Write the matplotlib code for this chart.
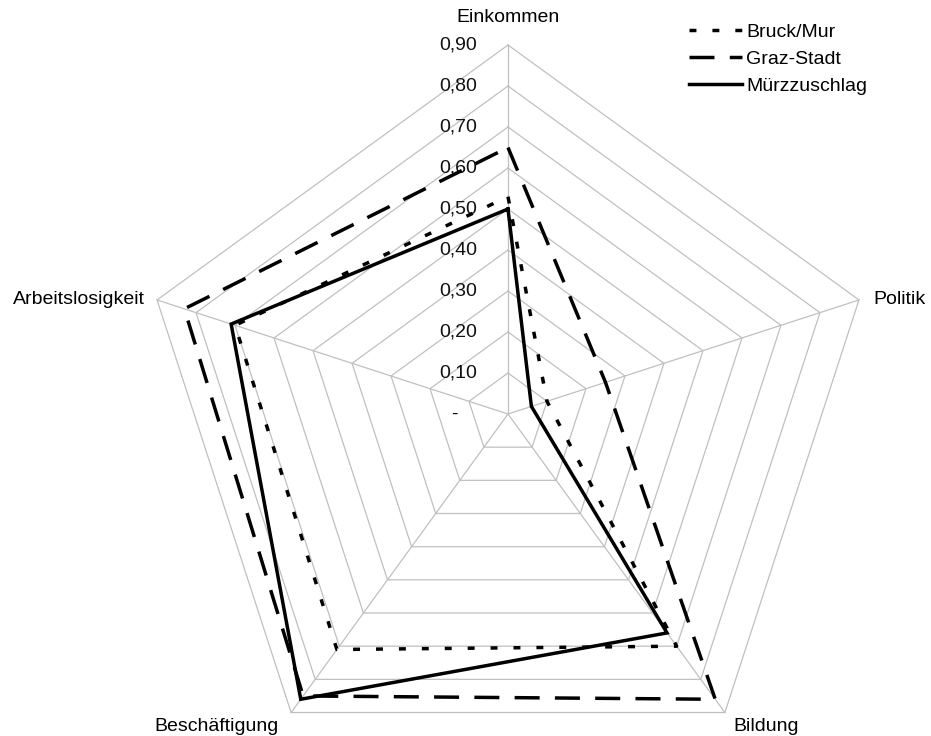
import numpy as np
import matplotlib
matplotlib.use("Agg")
import matplotlib.pyplot as plt
from matplotlib.lines import Line2D

plt.rcParams['font.family'] = ['Liberation Sans', 'DejaVu Sans']
plt.rcParams['lines.scale_dashes'] = False

categories = ["Einkommen", "Politik", "Bildung", "Beschäftigung", "Arbeitslosigkeit"]
bruck = [0.53, 0.10, 0.70, 0.71, 0.70]
graz = [0.65, 0.25, 0.86, 0.85, 0.83]
muerz = [0.50, 0.06, 0.66, 0.86, 0.71]
series_names = ["Bruck/Mur", "Graz-Stadt", "Mürzzuschlag"]
levels = [0.1, 0.2, 0.3, 0.4, 0.5, 0.6, 0.7, 0.8, 0.9]
level_labels = ["-", "0,10", "0,20", "0,30", "0,40", "0,50", "0,60", "0,70", "0,80", "0,90"]

W, H = 931, 736
FS = 14
fig = plt.figure(figsize=(W / 100, H / 100), dpi=100)
ax = fig.add_axes([0, 0, 1, 1])
scale = 410.0  # pixels per unit
cx, cy = 508, 414
ax.set_xlim(-cx / scale, (W - cx) / scale)
ax.set_ylim(-(H - cy) / scale, cy / scale)
ax.axis("off")

n = len(categories)
angles = np.deg2rad(90 - 72 * np.arange(n))


def xy(vals):
    v = np.asarray(vals, dtype=float)
    x = v * np.cos(angles)
    y = v * np.sin(angles)
    return np.append(x, x[0]), np.append(y, y[0])


grid_color = "#c0c0c0"
for lv in levels:
    gx, gy = xy([lv] * n)
    ax.plot(gx, gy, color=grid_color, lw=0.9, zorder=1)
rmax = levels[-1]
for a in angles:
    ax.plot([0, rmax * np.cos(a)], [0, rmax * np.sin(a)], color=grid_color, lw=0.9, zorder=1)

# radial scale labels along the top spoke
for i, lab in enumerate(level_labels):
    r = i * 0.1
    if lab == "-":
        ax.text(-54 / scale, r, lab, ha="center", va="center", fontsize=FS, color="#111111", zorder=2)
    else:
        ax.text(-31 / scale, r, lab, ha="right", va="center", fontsize=FS, color="#111111", zorder=2)

# category labels
ax.text(0, rmax + 27 / scale, categories[0], ha="center", va="center", fontsize=FS)
pa = angles[1]
ax.text(rmax * np.cos(pa) + 14 / scale, rmax * np.sin(pa), categories[1], ha="left", va="center", fontsize=FS)
ba = angles[2]
ax.text(rmax * np.cos(ba) + 8 / scale, rmax * np.sin(ba) - 14 / scale, categories[2], ha="left", va="center", fontsize=FS)
ea = angles[3]
ax.text(rmax * np.cos(ea) - 12 / scale, rmax * np.sin(ea) - 14 / scale, categories[3], ha="right", va="center", fontsize=FS)
aa = angles[4]
ax.text(rmax * np.cos(aa) - 12 / scale, rmax * np.sin(aa), categories[4], ha="right", va="center", fontsize=FS)

styles = [
    dict(dashes=(5.0, 11.5)),
    dict(dashes=(18.0, 11.0)),
    dict(linestyle="-"),
]
handles = []
for vals, name, st in zip([bruck, graz, muerz], series_names, styles):
    px, py = xy(vals)
    ax.plot(px, py, color="black", lw=2.5, dash_capstyle="butt",
            solid_joinstyle="miter", zorder=3, **st)
    handles.append(Line2D([0], [0], color="black", lw=2.5, dash_capstyle="butt", **st))

leg = ax.legend(handles, series_names, loc="upper left", bbox_to_anchor=(689 / W, 1 - 23 / H),
                frameon=False, fontsize=FS, handlelength=2.75, handletextpad=0.2,
                labelspacing=0.5, borderaxespad=0, borderpad=0)

fig.savefig("out.png", dpi=100)
